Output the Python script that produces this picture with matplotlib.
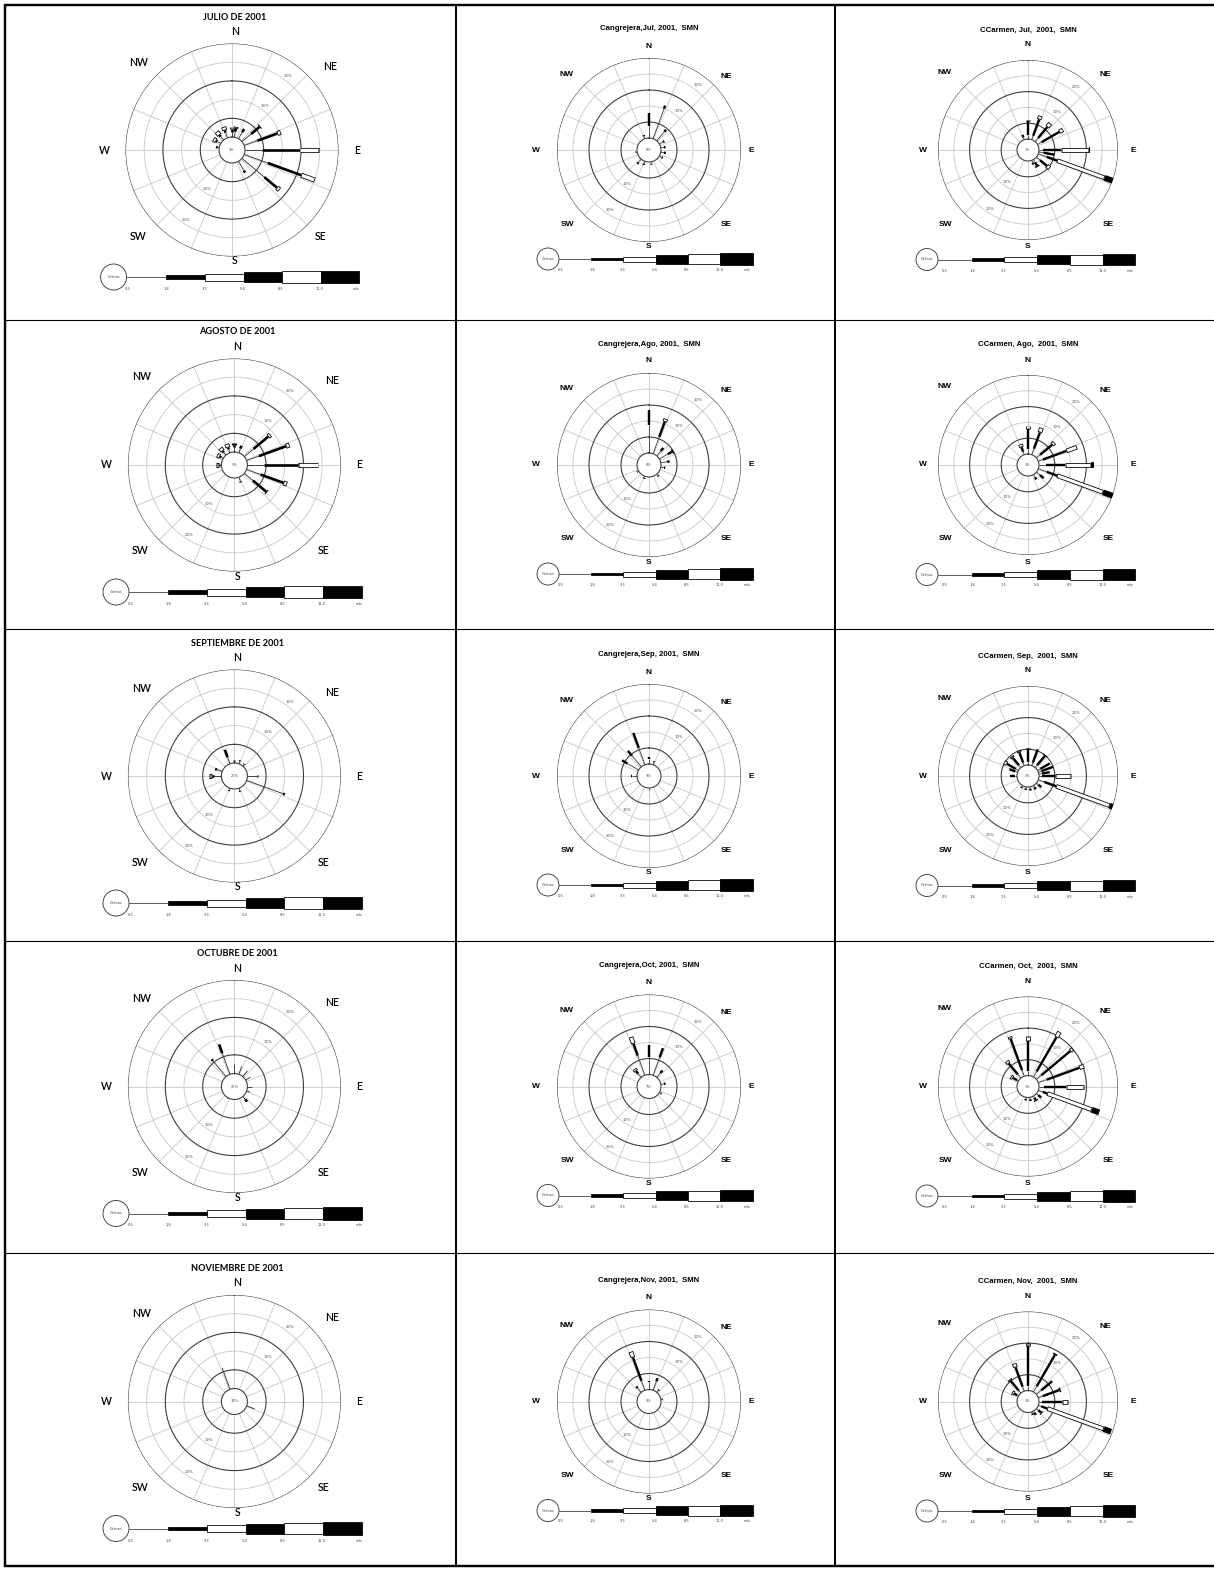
import numpy as np
import matplotlib
matplotlib.use("Agg")
import matplotlib.pyplot as plt
from matplotlib.patches import Circle, Rectangle
import matplotlib.font_manager as fm

# ---------------- data ----------------
speed_edges = ["0.5", "1.8", "3.3", "5.4", "8.5", "11.0"]
speed_unit = "m/s"
ring_labels = ["10%", "20%"]
calm_label = "Calmas"

titles_a = ["JULIO DE 2001", "AGOSTO DE 2001", "SEPTIEMBRE DE 2001",
            "OCTUBRE DE 2001", "NOVIEMBRE DE 2001"]
titles_b = ["Cangrejera,Jul, 2001,  SMN", "Cangrejera,Ago, 2001,  SMN",
            "Cangrejera,Sep, 2001,  SMN", "Cangrejera,Oct, 2001,  SMN",
            "Cangrejera,Nov, 2001,  SMN"]
titles_c = ["CCarmen, Jul,  2001,  SMN", "CCarmen, Ago,  2001,  SMN",
            "CCarmen, Sep,  2001,  SMN", "CCarmen, Oct,  2001,  SMN",
            "CCarmen, Nov,  2001,  SMN"]
calm_a = ["4%", "3%", "26%", "22%", "34%"]
calm_b = ["8%", "6%", "9%", "7%", "9%"]
calm_c = ["1%", "2%", "2%", "1%", "2%"]

# direction (deg) and percentage per speed class (0.5-1.8, 1.8-3.3, 3.3-5.4, 5.4-8.5, 8.5-11, >11)
jul_a_dir = [90, 110, 130, 150, 70, 50, 30, 10, 0, 340, 320, 300, 280]
jul_a_pct = [[4.5, 10.1, 5.1], [6.7, 9.5, 3.9], [7.8, 4.4, 0.9], [2.9, 0.6], [3.7, 5.7, 1.0],
             [3.2, 2.9, 0.3], [2.0, 1.0], [1.5, 0.8, 0.5], [1.4, 0.8, 0.6], [1.5, 0.6, 1.0],
             [1.2, 0.5, 1.2], [1.0, 0.4, 0.9], [0.4, 0.5]]
jul_b_dir = [0, 20, 40, 60, 80, 100, 120, 170, 200, 220, 340, 260]
jul_b_pct = [[3.75, 4.0], [10, 1], [3.7, 0.8], [1.3, 0.5], [1.0, 0.5], [1.0, 0.6], [0.8, 0.4],
             [0.6, 0.3], [0.8, 0.4], [1.4, 0.5], [0.8, 0.4], [0.3, 0.2]]
jul_c_dir = [110, 90, 100, 130, 150, 160, 0, 20, 40, 60, 340]
jul_c_pct = [[2.8, 3.5, 16, 3.1], [1.3, 5.8, 8.8, 0.3], [1.5, 3.5], [1.5, 2.8, 1.2], [1.0, 1.2, 0.5],
             [0.8, 0.6], [1.3, 4.5, 0.3], [1.3, 5.5, 1.2], [1.5, 4.5, 1.5], [1.5, 6.5, 1.3], [0.8, 0.8]]

ago_a_dir = [90, 70, 50, 110, 130, 160, 0, 20, 340, 320, 300, 270]
ago_a_pct = [[4.5, 9.0, 5.5], [3.5, 7.7, 1.0], [3.2, 5.1, 0.8], [4, 6.5, 1.0], [3, 4.6, 0.3],
             [1.2, 0.3], [1.3, 0.6, 0.4], [1.2, 0.8], [1.0, 0.5, 1.0], [0.9, 0.5, 1.0],
             [0.6, 0.4, 0.8], [0.3, 0.4, 0.8]]
ago_b_dir = [0, 20, 40, 60, 80, 100, 140, 200, 240]
ago_b_pct = [[8.75, 4.7], [5.6, 5.0, 1.0], [2, 1.2], [3, 1.5, 0.5], [2, 0.8], [1.0, 0.4],
             [0.6, 0.3], [0.5, 0.3], [0.4, 0.2]]
ago_c_dir = [110, 90, 70, 50, 20, 0, 340, 130, 150]
ago_c_pct = [[2.8, 3.5, 15.5, 3.5], [2.2, 6.1, 8.1, 1.0], [1.5, 8, 3.5], [1.5, 5, 1], [2, 5.5, 1.5],
             [1.5, 6.5, 1], [1, 1.5, 1], [1.5, 1.5], [1, 0.8]]

sep_a_dir = [110, 340, 0, 270, 290, 90, 160, 200, 20, 40]
sep_a_pct = [[10.4, 0.5], [1.9, 2.1], [0.6, 0.3], [2, 0.5, 0.8], [1.5, 0.5], [2.6, 0.3],
             [0.8, 0.2], [0.6, 0.2], [0.8, 0.2], [0.5, 0.2]]
sep_b_dir = [340, 320, 300, 0, 270, 20, 180]
sep_b_pct = [[5.6, 5], [4.5, 2], [4, 2], [1.5, 0.6], [1.5, 0.5], [0.8, 0.3], [0.5, 0.2]]
sep_c_dir = [110, 90, 0, 20, 40, 60, 70, 80, 340, 320, 300, 290, 270, 130, 150, 170, 190, 210]
sep_c_pct = [[2, 4, 18, 2.5], [1, 4.1, 5.1], [1, 4, 0.5], [1, 4.5], [1, 3.8, 0.4], [1, 3.5],
             [1, 4], [1, 2.5], [1, 3.5, 0.6], [1, 3.0, 0.6], [1, 3.2, 1.0], [0.8, 2], [0.6, 1.5],
             [0.8, 1.2], [0.6, 0.8], [0.6, 0.6], [0.5, 0.5], [0.5, 0.4]]

oct_a_dir = [340, 320, 0, 20, 40, 60, 90, 140, 110, 210]
oct_a_pct = [[6, 2.5], [5.5, 0.5], [2.5], [2.2], [2], [1.5], [1.2], [1, 0.8], [1.0], [0.3]]
oct_b_dir = [340, 0, 20, 320, 40, 80, 120]
oct_b_pct = [[6.5, 4, 2.2], [5.6, 3.6], [6, 3], [1.5, 1, 0.8], [1.8, 1], [1, 0.5], [0.5, 0.3]]
oct_c_dir = [110, 90, 70, 50, 30, 0, 340, 320, 300, 130, 150, 170, 190]
oct_c_pct = [[1.5, 1.5, 15, 2.5], [1.6, 7, 5.7], [2.8, 11, 1.6], [2, 12, 1], [2, 12.5, 2],
             [1.5, 9.5, 1.5], [2, 10.5, 0.8], [1.5, 4.5, 1], [0.5, 1.5, 0.8], [0.8, 1.2],
             [0.6, 0.8, 0.4], [0.6, 0.6], [0.5, 0.5]]

nov_a_dir = [340, 110]
nov_a_pct = [[6.1], [2.3]]
nov_b_dir = [340, 0, 20, 320, 40, 80]
nov_b_pct = [[3.1, 7.8, 1.9], [2.2, 0.6], [3, 1], [1.8, 0.6], [0.8, 0.3], [0.5, 0.2]]
nov_c_dir = [110, 90, 70, 50, 30, 0, 340, 320, 300, 130, 150, 160]
nov_c_pct = [[1, 2, 19, 2.5], [1, 6.3, 1.9], [1.5, 5.5, 0.5], [2, 4.5], [2, 11.5, 0.5],
             [1.5, 12.5, 1], [1.5, 6.5, 1.3], [1, 4, 0.6], [0.5, 1, 0.8], [0.8, 1.2, 0.3],
             [0.6, 0.8], [0.5, 0.5]]

rose_a = [(jul_a_dir, jul_a_pct), (ago_a_dir, ago_a_pct), (sep_a_dir, sep_a_pct),
          (oct_a_dir, oct_a_pct), (nov_a_dir, nov_a_pct)]
rose_b = [(jul_b_dir, jul_b_pct), (ago_b_dir, ago_b_pct), (sep_b_dir, sep_b_pct),
          (oct_b_dir, oct_b_pct), (nov_b_dir, nov_b_pct)]
rose_c = [(jul_c_dir, jul_c_pct), (ago_c_dir, ago_c_pct), (sep_c_dir, sep_c_pct),
          (oct_c_dir, oct_c_pct), (nov_c_dir, nov_c_pct)]

# ---------------- layout / style ----------------
W, H = 1214, 1570
PT = 0.72  # points per pixel at dpi 100
names = {f.name for f in fm.fontManager.ttflist}
FONT_A = "Lato" if "Lato" in names else "DejaVu Sans"
FONT_B = "Liberation Sans" if "Liberation Sans" in names else "DejaVu Sans"

fig = plt.figure(figsize=(W / 100, H / 100), dpi=100)
fig.patch.set_facecolor("white")
ov = fig.add_axes([0, 0, 1, 1])
ov.set_xlim(0, W)
ov.set_ylim(H, 0)
ov.axis("off")

row_y = [150, 465, 776, 1086.5, 1401.5]
cols = [
    dict(xs=[232, 234.4, 234.4, 234.4, 234.4], R=106.5, calm=13, step=18.7, ws=1.1,
         font=FONT_A, tsize=6.6, tweight="bold", dsize=7.6, dweight="semibold",
         title=(3, -133), lab={"N": (3, -118.5), "S": (3, 111), "E": (125, 0), "W": (-128, 0),
                               "NE": (98, -84), "NW": (-93, -88), "SE": (89, 86), "SW": (-94, 86)},
         leg_c=(-118.4, 127, 13), leg_b=[-105.4, -66, -27.4, 11.6, 50, 89, 127.3],
         leg_h=[0.8, 3.5, 7, 10, 11.5, 12.7], leg_ly=139,
         leg_lx=[-104, -65.7, -27.7, 10.6, 48.3, 87.3, 124.3],
         titles=titles_a, roses=rose_a, calms=calm_a),
    dict(xs=[649] * 5, R=92, calm=12, step=16, ws=1.0,
         font=FONT_B, tsize=5.6, tweight="bold", dsize=6.0, dweight="bold",
         title=(0, -121), lab={"N": (0, -104), "S": (0, 97), "E": (102, 0), "W": (-113, 0),
                               "NE": (77, -74), "NW": (-82, -76), "SE": (77, 74), "SW": (-82, 74)},
         leg_c=(-101, 109, 11), leg_b=[-90, -57.7, -25.7, 6.7, 39, 71, 104.3],
         leg_h=[0.8, 2.3, 5, 9, 10, 11.5], leg_ly=120,
         leg_lx=[-88.3, -57, -26, 5.7, 37.7, 71, 98.3],
         titles=titles_b, roses=rose_b, calms=calm_b),
    dict(xs=[1028] * 5, R=90, calm=11, step=15.8, ws=1.0,
         font=FONT_B, tsize=5.6, tweight="bold", dsize=6.0, dweight="bold",
         title=(0, -120), lab={"N": (0, -105), "S": (0, 97), "E": (105, 0), "W": (-105, 0),
                               "NE": (77, -75), "NW": (-83, -78), "SE": (80, 74), "SW": (-83, 74)},
         leg_c=(-101, 109.5, 11), leg_b=[-90, -56.3, -23.7, 8.7, 42, 74.7, 107],
         leg_h=[0.8, 2.3, 5, 9, 10, 11.5], leg_ly=120.5,
         leg_lx=[-83, -56, -24, 9, 42, 75, 102],
         titles=titles_c, roses=rose_c, calms=calm_c),
]

LIGHT = "#cbcbcb"
DARK = "#3c3c3c"
SEG_W = [0.8, 2.4, 4.6, 5.8, 7.0, 8.2]


def draw_rose(cx, cy, c, dirs, pcts, calm_txt):
    R, calm, step, ws = c["R"], c["calm"], c["step"], c["ws"]
    ax = fig.add_axes([(cx - R) / W, 1 - (cy + R) / H, 2 * R / W, 2 * R / H], projection="polar")
    ax.set_theta_zero_location("N")
    ax.set_theta_direction(-1)
    ax.set_ylim(0, R)
    ax.set_axis_off()
    ax.patch.set_alpha(0)
    th = np.linspace(0, 2 * np.pi, 721)
    for k in (2, 4):
        ax.plot(th, np.full_like(th, calm + k * step), color=LIGHT, lw=0.9 * PT, zorder=1)
    for a in np.arange(16) * 22.5:
        ax.plot([np.radians(a)] * 2, [calm, calm + 5 * step], color=LIGHT, lw=0.9 * PT, zorder=1)
    for k in (1, 3, 5):
        ax.plot(th, np.full_like(th, calm + k * step), color=DARK, lw=1.1 * PT, zorder=2)
    ax.fill(th, np.full_like(th, calm), color="white", zorder=3)
    ax.plot(th, np.full_like(th, calm), color=DARK, lw=1.1 * PT, zorder=4)
    # ring labels
    for k, txt in zip((2, 4), ring_labels):
        ax.text(np.radians(37), calm + k * step + 5, txt, fontsize=2.8, ha="center", va="center",
                color="#555555", zorder=2)
        ax.text(np.radians(213), calm + k * step - 4, txt, fontsize=2.8, ha="center", va="center",
                color="#555555", zorder=2)
    ax.text(0, 0, calm_txt, fontsize=2.6, ha="center", va="center", color="#555555", zorder=5)
    pxp = step / 5.0  # pixels per percent
    for d, segs in zip(dirs, pcts):
        t = np.radians(d)
        r0 = calm
        for i, s in enumerate(segs):
            if s <= 0:
                continue
            r1 = r0 + s * pxp
            w = SEG_W[i] * ws
            if i == 0:
                ax.plot([t, t], [r0, r1], color="#333333", lw=w * PT, solid_capstyle="butt", zorder=6)
            elif i % 2 == 1:
                ax.plot([t, t], [r0, r1], color="black", lw=w * PT, solid_capstyle="butt", zorder=6)
            else:
                ax.plot([t, t], [r0, r1], color="black", lw=w * PT, solid_capstyle="butt", zorder=6)
                e = 0.8
                if r1 - r0 > 2 * e:
                    ax.plot([t, t], [r0 + e, r1 - e], color="white", lw=(w - 2 * e) * PT,
                            solid_capstyle="butt", zorder=7)
            r0 = r1


def draw_legend(cx, cy, c):
    lx, ly, lr = c["leg_c"]
    ov.add_patch(Circle((cx + lx, cy + ly), lr, facecolor="white", edgecolor=DARK, lw=0.9 * PT))
    ov.text(cx + lx, cy + ly, calm_label, fontsize=2.4, ha="center", va="center", color="#444444")
    b = c["leg_b"]
    yb = cy + ly
    ov.plot([cx + b[0], cx + b[1]], [yb, yb], color=DARK, lw=0.8 * PT)
    for i in range(1, 6):
        h = c["leg_h"][i]
        fc = "black" if i % 2 == 1 else "white"
        ov.add_patch(Rectangle((cx + b[i], yb - h / 2), b[i + 1] - b[i], h, facecolor=fc,
                               edgecolor="black", lw=0.8 * PT))
    labs = speed_edges + [speed_unit]
    for x, t in zip(c["leg_lx"], labs):
        ov.text(cx + x, cy + c["leg_ly"], t, fontsize=2.6, ha="center", va="center", color="#444444")


for c in cols:
    for r in range(5):
        cx, cy = c["xs"][r], row_y[r]
        dirs, pcts = c["roses"][r]
        draw_rose(cx, cy, c, dirs, pcts, c["calms"][r])
        tx, ty = c["title"]
        ov.text(cx + tx, cy + ty, c["titles"][r], fontsize=c["tsize"], fontweight=c["tweight"],
                family=c["font"], ha="center", va="center")
        for k, (dx, dy) in c["lab"].items():
            ov.text(cx + dx, cy + dy, k, fontsize=c["dsize"], fontweight=c["dweight"],
                    family=c["font"], ha="center", va="center")
        draw_legend(cx, cy, c)

# table frame (open on the right side, as in the original scan)
ov.plot([1214, 5, 5, 1214], [5, 5, 1566, 1566], color="black", lw=2.4 * PT,
        solid_joinstyle="miter")
for x in (455.5, 834.5):
    ov.plot([x, x], [5, 1566], color="black", lw=2.0 * PT)
for y in (320, 629, 941, 1253):
    ov.plot([5, 1214], [y, y], color="black", lw=1.1 * PT)

fig.savefig("out.png", dpi=100, facecolor="white")
